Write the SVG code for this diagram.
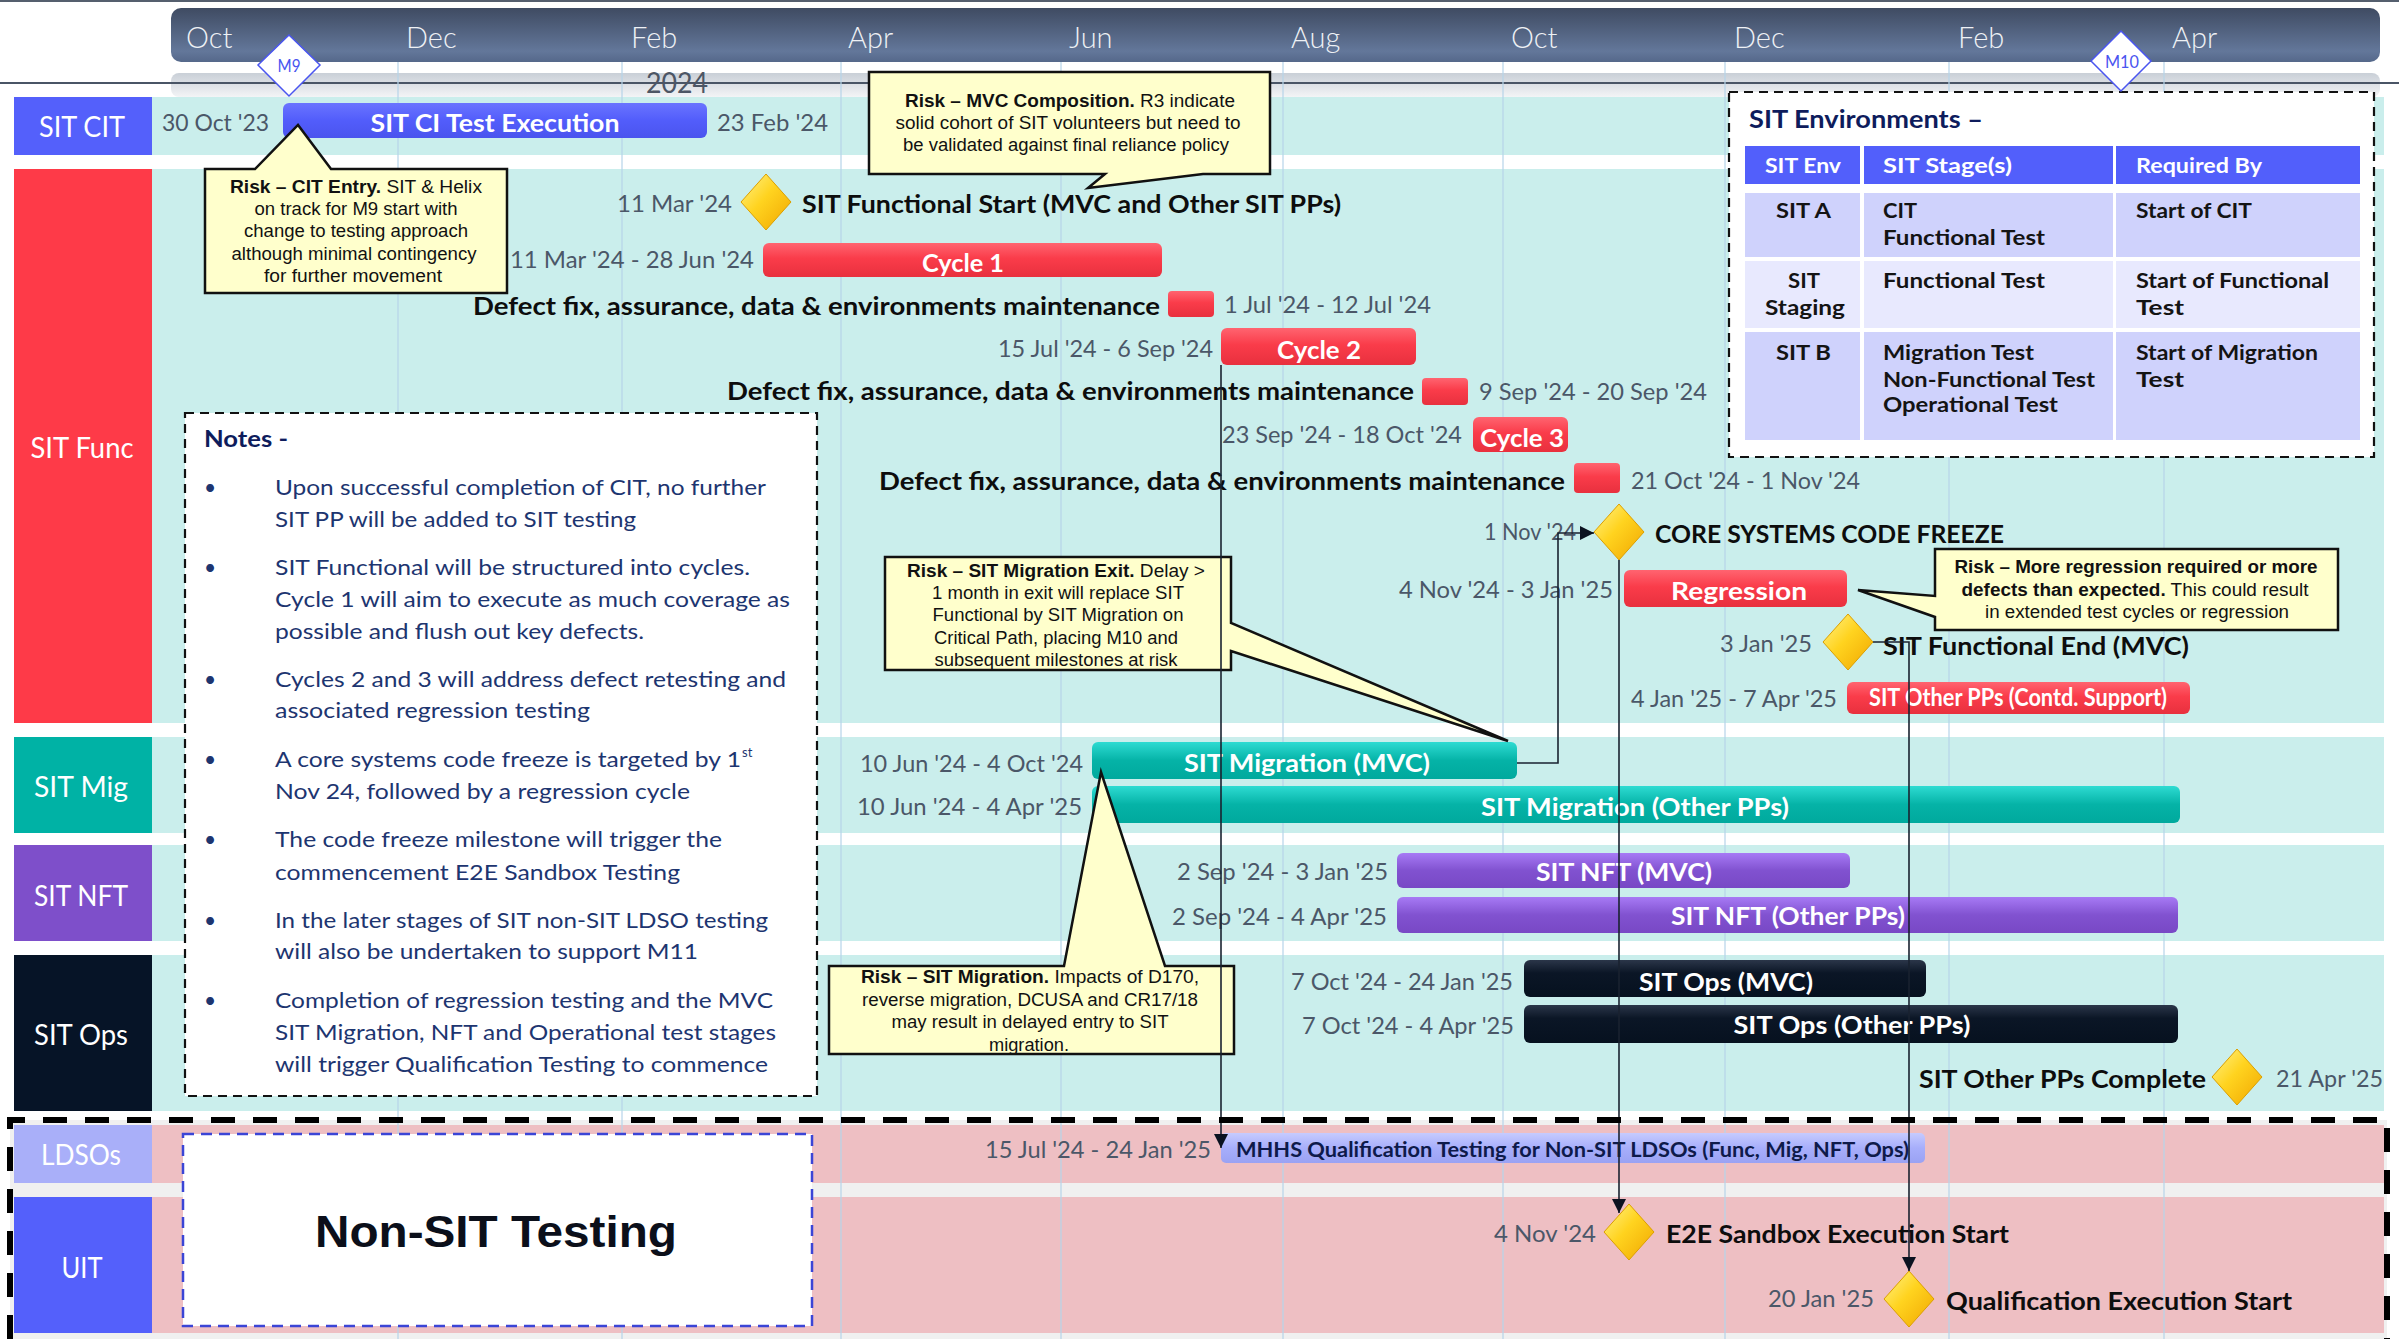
<svg xmlns="http://www.w3.org/2000/svg" width="2399" height="1339" viewBox="0 0 2399 1339">
<defs>
<linearGradient id="gHead" x1="0" y1="0" x2="0" y2="1"><stop offset="0" stop-color="#3f4b62"/><stop offset="0.8" stop-color="#63779a"/><stop offset="1" stop-color="#55688a"/></linearGradient>
<linearGradient id="gStrip" x1="0" y1="0" x2="0" y2="1"><stop offset="0" stop-color="#c9cfd7"/><stop offset="1" stop-color="#f3f4f6"/></linearGradient>
<linearGradient id="gRed" x1="0" y1="0" x2="0" y2="1"><stop offset="0" stop-color="#ff6470"/><stop offset="0.45" stop-color="#fa3c4a"/><stop offset="1" stop-color="#e8303e"/></linearGradient>
<linearGradient id="gBlue" x1="0" y1="0" x2="0" y2="1"><stop offset="0" stop-color="#6a74ff"/><stop offset="0.5" stop-color="#525dfb"/><stop offset="1" stop-color="#4a54ee"/></linearGradient>
<linearGradient id="gTeal" x1="0" y1="0" x2="0" y2="1"><stop offset="0" stop-color="#2edbd2"/><stop offset="0.5" stop-color="#05b3a7"/><stop offset="1" stop-color="#00a99d"/></linearGradient>
<linearGradient id="gPurp" x1="0" y1="0" x2="0" y2="1"><stop offset="0" stop-color="#a77af5"/><stop offset="0.5" stop-color="#8152d0"/><stop offset="1" stop-color="#7848c5"/></linearGradient>
<linearGradient id="gNavy" x1="0" y1="0" x2="0" y2="1"><stop offset="0" stop-color="#2b3649"/><stop offset="0.35" stop-color="#0b1626"/><stop offset="1" stop-color="#06111f"/></linearGradient>
<linearGradient id="gPeri" x1="0" y1="0" x2="0" y2="1"><stop offset="0" stop-color="#c6cbff"/><stop offset="0.5" stop-color="#a7aefb"/><stop offset="1" stop-color="#9aa2f3"/></linearGradient>
<linearGradient id="gGold" x1="0" y1="0" x2="1" y2="1"><stop offset="0" stop-color="#fff38a"/><stop offset="0.45" stop-color="#ffd31f"/><stop offset="1" stop-color="#f0a600"/></linearGradient>
<path id="dia" d="M0,-28 L25,0 L0,28 L-25,0 Z"/>
<marker id="arr" viewBox="0 0 14 14" refX="14" refY="7" markerWidth="14" markerHeight="14" markerUnits="userSpaceOnUse" orient="auto"><path d="M0,0 L14,7 L0,14 Z" fill="#0b1220"/></marker>
</defs>
<style>
text{font-family:Lato,"Liberation Sans",sans-serif}
.lane{fill:#caeeec}
.pink{fill:#eebfc3}
.lbl{fill:#ffffff;font-size:28px;text-anchor:middle}
.mon{fill:#eef1f5;font-size:29px;font-weight:300}
.date{fill:#4b5768;font-size:24px}
.bt{fill:#ffffff;font-size:25px;font-weight:700;text-anchor:middle}
.ms{fill:#0d0d0d;font-size:25px;font-weight:700}
.gold{fill:url(#gGold);stroke:#dc9f00;stroke-width:1}
.call{fill:#ffffcc;stroke:#111111;stroke-width:2.5;stroke-linejoin:miter}
.ct{font-family:"Liberation Sans",Arial,sans-serif;fill:#111111;font-size:17.5px;text-anchor:middle}
.ct .b{font-weight:700}
.big{font-family:"Liberation Sans",Arial,sans-serif;font-size:44px;font-weight:700;fill:#0b0f1a;text-anchor:middle}
.note{fill:#1d3570;font-size:21px}
.th{fill:#ffffff;font-size:21px;font-weight:700}
.td{fill:#141414;font-size:21px;font-weight:700}
.grid{stroke:#b7d5ea;stroke-width:2;opacity:0.6}
.con{fill:none;stroke:#1a2230;stroke-width:1.6}
.ml{fill:#ffffff;stroke:#4a55f0;stroke-width:1.5}
.mt{fill:#4a55f0;font-size:18px;text-anchor:middle}
</style>
<rect x="0" y="0" width="2399" height="1339" fill="#ffffff"/>

<g id="timeline">
<line x1="0" y1="1" x2="2399" y2="1" stroke="#555f6e" stroke-width="2"/>
<rect x="171" y="8" width="2209" height="54" rx="10" fill="url(#gHead)"/>
<rect x="171" y="73" width="2209" height="24" rx="8" fill="url(#gStrip)"/>
<line x1="0" y1="83" x2="2399" y2="83" stroke="#4a5566" stroke-width="2"/>
<text class="mon" x="186" y="48">Oct</text>
<text class="mon" x="406" y="48">Dec</text>
<text class="mon" x="631" y="48">Feb</text>
<text class="mon" x="848" y="48">Apr</text>
<text class="mon" x="1069" y="48">Jun</text>
<text class="mon" x="1291" y="48">Aug</text>
<text class="mon" x="1511" y="48">Oct</text>
<text class="mon" x="1734" y="48">Dec</text>
<text class="mon" x="1958" y="48">Feb</text>
<text class="mon" x="2172" y="48">Apr</text>
<text x="646" y="93" fill="#4d5665" font-size="29" textLength="62" lengthAdjust="spacingAndGlyphs">2024</text>
</g>

<g id="lanes">
<rect class="lane" x="152" y="97" width="2232" height="58"/>
<rect class="lane" x="152" y="169" width="2232" height="554"/>
<rect class="lane" x="152" y="737" width="2232" height="96"/>
<rect class="lane" x="152" y="845" width="2232" height="96"/>
<rect class="lane" x="152" y="955" width="2232" height="156"/>
<rect x="10" y="1120" width="2377" height="219" fill="#f0f0f0"/>
<rect class="pink" x="152" y="1125" width="2232" height="58"/>
<rect class="pink" x="152" y="1197" width="2232" height="136"/>
</g>

<g id="gridlines">
<line class="grid" x1="398" y1="62" x2="398" y2="1339"/>
<line class="grid" x1="622" y1="62" x2="622" y2="1339"/>
<line class="grid" x1="841" y1="62" x2="841" y2="1339"/>
<line class="grid" x1="1061" y1="62" x2="1061" y2="1339"/>
<line class="grid" x1="1283" y1="62" x2="1283" y2="1339"/>
<line class="grid" x1="1503" y1="62" x2="1503" y2="1339"/>
<line class="grid" x1="1725" y1="62" x2="1725" y2="1339"/>
<line class="grid" x1="1949" y1="62" x2="1949" y2="1339"/>
<line class="grid" x1="2164" y1="62" x2="2164" y2="1339"/>
</g>

<g id="lane-labels">
<g id="lbl-cit"><rect x="14" y="97" width="138" height="58" fill="#5460fb"/><text class="lbl" x="82" y="137" textLength="86" lengthAdjust="spacingAndGlyphs">SIT CIT</text></g>
<g id="lbl-func"><rect x="14" y="169" width="138" height="554" fill="#fe3a48"/><text class="lbl" x="82" y="458" textLength="103" lengthAdjust="spacingAndGlyphs">SIT Func</text></g>
<g id="lbl-mig"><rect x="14" y="737" width="138" height="96" fill="#00b2a5"/><text class="lbl" x="81" y="797" textLength="94" lengthAdjust="spacingAndGlyphs">SIT Mig</text></g>
<g id="lbl-nft"><rect x="14" y="845" width="138" height="96" fill="#7e4fca"/><text class="lbl" x="81" y="906" textLength="94" lengthAdjust="spacingAndGlyphs">SIT NFT</text></g>
<g id="lbl-ops"><rect x="14" y="955" width="138" height="156" fill="#061427"/><text class="lbl" x="81" y="1045" textLength="94" lengthAdjust="spacingAndGlyphs">SIT Ops</text></g>
<g id="lbl-ldsos"><rect x="14" y="1125" width="138" height="58" fill="#a9aff9"/><text class="lbl" x="81" y="1165" textLength="80" lengthAdjust="spacingAndGlyphs">LDSOs</text></g>
<g id="lbl-uit"><rect x="14" y="1197" width="138" height="136" fill="#5460fb"/><text class="lbl" x="82" y="1278" textLength="41" lengthAdjust="spacingAndGlyphs">UIT</text></g>
</g>

<g id="notes">
<rect x="185" y="413" width="632" height="683" fill="#ffffff" stroke="#111111" stroke-width="2.2" stroke-dasharray="9 6"/>
<text x="204" y="447" fill="#0e1c5c" font-size="23" font-weight="700" textLength="84" lengthAdjust="spacingAndGlyphs">Notes  -</text>
<g class="note">
<text x="204" y="495">•</text><text x="204" y="575">•</text><text x="204" y="687">•</text><text x="204" y="767">•</text><text x="204" y="847">•</text><text x="204" y="928">•</text><text x="204" y="1008">•</text>
<text x="275" y="495" textLength="491" lengthAdjust="spacingAndGlyphs">Upon successful completion of CIT, no further</text>
<text x="275" y="527" textLength="361" lengthAdjust="spacingAndGlyphs">SIT PP will be added to SIT testing</text>
<text x="275" y="575" textLength="475" lengthAdjust="spacingAndGlyphs">SIT Functional will be structured into cycles.</text>
<text x="275" y="607" textLength="515" lengthAdjust="spacingAndGlyphs">Cycle 1 will aim to execute  as much coverage as</text>
<text x="275" y="639" textLength="369" lengthAdjust="spacingAndGlyphs">possible and flush out key defects.</text>
<text x="275" y="687" textLength="511" lengthAdjust="spacingAndGlyphs">Cycles 2 and 3 will address defect retesting and</text>
<text x="275" y="718" textLength="315" lengthAdjust="spacingAndGlyphs">associated regression testing</text>
<text x="275" y="767" textLength="466" lengthAdjust="spacingAndGlyphs">A core systems code freeze  is targeted by 1</text>
<text x="742" y="757" font-size="13">st</text>
<text x="275" y="799" textLength="415" lengthAdjust="spacingAndGlyphs">Nov 24, followed by a regression cycle</text>
<text x="275" y="847" textLength="447" lengthAdjust="spacingAndGlyphs">The code freeze  milestone will trigger the</text>
<text x="275" y="880" textLength="405" lengthAdjust="spacingAndGlyphs">commencement  E2E Sandbox Testing</text>
<text x="275" y="928" textLength="493" lengthAdjust="spacingAndGlyphs">In the later stages of SIT non-SIT LDSO testing</text>
<text x="275" y="959" textLength="423" lengthAdjust="spacingAndGlyphs">will also be undertaken to support M11</text>
<text x="275" y="1008" textLength="498" lengthAdjust="spacingAndGlyphs">Completion of regression testing and the MVC</text>
<text x="275" y="1040" textLength="501" lengthAdjust="spacingAndGlyphs">SIT Migration, NFT and Operational test stages</text>
<text x="275" y="1072" textLength="493" lengthAdjust="spacingAndGlyphs">will trigger Qualification Testing to commence</text>
</g>
</g>

<g id="sit-environments">
<rect x="1729" y="92" width="645" height="365" fill="#ffffff" stroke="#111111" stroke-width="2.2" stroke-dasharray="9 6"/>
<text x="1749" y="128" fill="#0e1c5c" font-size="25" font-weight="700" textLength="234" lengthAdjust="spacingAndGlyphs">SIT Environments –</text>
<rect x="1745" y="146" width="115" height="38" fill="#525ffb"/><rect x="1864" y="146" width="249" height="38" fill="#525ffb"/><rect x="2116" y="146" width="244" height="38" fill="#525ffb"/>
<rect x="1745" y="193" width="115" height="64" fill="#cfd2fc"/><rect x="1864" y="193" width="249" height="64" fill="#cfd2fc"/><rect x="2116" y="193" width="244" height="64" fill="#cfd2fc"/>
<rect x="1745" y="261" width="115" height="67" fill="#e8e9fe"/><rect x="1864" y="261" width="249" height="67" fill="#e8e9fe"/><rect x="2116" y="261" width="244" height="67" fill="#e8e9fe"/>
<rect x="1745" y="332" width="115" height="108" fill="#cfd2fc"/><rect x="1864" y="332" width="249" height="108" fill="#cfd2fc"/><rect x="2116" y="332" width="244" height="108" fill="#cfd2fc"/>
<text class="th" x="1765" y="173" textLength="76" lengthAdjust="spacingAndGlyphs">SIT Env</text>
<text class="th" x="1883" y="173" textLength="129" lengthAdjust="spacingAndGlyphs">SIT Stage(s)</text>
<text class="th" x="2136" y="173" textLength="126" lengthAdjust="spacingAndGlyphs">Required By</text>
<text class="td" x="1776" y="218" textLength="55" lengthAdjust="spacingAndGlyphs">SIT A</text>
<text class="td" x="1883" y="218" textLength="34" lengthAdjust="spacingAndGlyphs">CIT</text>
<text class="td" x="1883" y="245" textLength="162" lengthAdjust="spacingAndGlyphs">Functional Test</text>
<text class="td" x="2136" y="218" textLength="116" lengthAdjust="spacingAndGlyphs">Start of CIT</text>
<text class="td" x="1788" y="288" textLength="32" lengthAdjust="spacingAndGlyphs">SIT</text>
<text class="td" x="1765" y="315" textLength="80" lengthAdjust="spacingAndGlyphs">Staging</text>
<text class="td" x="1883" y="288" textLength="162" lengthAdjust="spacingAndGlyphs">Functional Test</text>
<text class="td" x="2136" y="288" textLength="193" lengthAdjust="spacingAndGlyphs">Start of Functional</text>
<text class="td" x="2136" y="315" textLength="48" lengthAdjust="spacingAndGlyphs">Test</text>
<text class="td" x="1776" y="360" textLength="55" lengthAdjust="spacingAndGlyphs">SIT B</text>
<text class="td" x="1883" y="360" textLength="151" lengthAdjust="spacingAndGlyphs">Migration Test</text>
<text class="td" x="1883" y="387" textLength="212" lengthAdjust="spacingAndGlyphs">Non-Functional Test</text>
<text class="td" x="1883" y="412" textLength="175" lengthAdjust="spacingAndGlyphs">Operational Test</text>
<text class="td" x="2136" y="360" textLength="182" lengthAdjust="spacingAndGlyphs">Start of Migration</text>
<text class="td" x="2136" y="387" textLength="48" lengthAdjust="spacingAndGlyphs">Test</text>
</g>

<g id="non-sit-box">
<rect x="183" y="1134" width="629" height="192" fill="#ffffff" stroke="#3b45d6" stroke-width="2.5" stroke-dasharray="11 7"/>
<text class="big" x="496" y="1247" textLength="362" lengthAdjust="spacingAndGlyphs">Non-SIT Testing</text>
</g>

<g id="m9"><path class="ml" d="M289,35 L320,65 L289,96 L258,65 Z"/><text class="mt" x="289" y="72" textLength="23" lengthAdjust="spacingAndGlyphs">M9</text></g>
<g id="m10"><path class="ml" d="M2121,31 L2151,61 L2121,91 L2091,61 Z"/><text class="mt" x="2122" y="68" textLength="34" lengthAdjust="spacingAndGlyphs">M10</text></g>

<g id="sit-ci-test-execution">
<text class="date" x="162" y="131" textLength="107" lengthAdjust="spacingAndGlyphs">30 Oct '23</text>
<rect x="283" y="103" width="424" height="35" rx="6" fill="url(#gBlue)"/>
<text class="bt" x="495" y="132" textLength="249" lengthAdjust="spacingAndGlyphs">SIT CI Test Execution</text>
<text class="date" x="717" y="131" textLength="111" lengthAdjust="spacingAndGlyphs">23 Feb '24</text>
</g>

<g id="sit-functional-start">
<text class="date" x="617" y="212" textLength="115" lengthAdjust="spacingAndGlyphs">11 Mar '24</text>
<use href="#dia" x="766" y="202" class="gold"/>
<text class="ms" x="802" y="213" textLength="539" lengthAdjust="spacingAndGlyphs">SIT Functional Start (MVC and Other SIT PPs)</text>
</g>

<g id="cycle-1">
<text class="date" x="510" y="268" textLength="244" lengthAdjust="spacingAndGlyphs">11 Mar '24 - 28 Jun '24</text>
<rect x="763" y="243" width="399" height="34" rx="6" fill="url(#gRed)"/>
<text class="bt" x="963" y="272" textLength="82" lengthAdjust="spacingAndGlyphs">Cycle 1</text>
</g>
<g id="defect-fix-1">
<text class="ms" x="473" y="315" textLength="687" lengthAdjust="spacingAndGlyphs">Defect fix, assurance, data &amp; environments maintenance</text>
<rect x="1168" y="291" width="46" height="26" rx="4" fill="url(#gRed)"/>
<text class="date" x="1224" y="313" textLength="207" lengthAdjust="spacingAndGlyphs">1 Jul '24 - 12 Jul '24</text>
</g>
<g id="cycle-2">
<text class="date" x="998" y="357" textLength="215" lengthAdjust="spacingAndGlyphs">15 Jul '24 - 6 Sep '24</text>
<rect x="1221" y="328" width="195" height="37" rx="6" fill="url(#gRed)"/>
<text class="bt" x="1319" y="359" textLength="84" lengthAdjust="spacingAndGlyphs">Cycle 2</text>
</g>
<g id="defect-fix-2">
<text class="ms" x="727" y="400" textLength="687" lengthAdjust="spacingAndGlyphs">Defect fix, assurance, data &amp; environments maintenance</text>
<rect x="1422" y="378" width="46" height="27" rx="4" fill="url(#gRed)"/>
<text class="date" x="1479" y="400" textLength="228" lengthAdjust="spacingAndGlyphs">9 Sep '24 - 20 Sep '24</text>
</g>
<g id="cycle-3">
<text class="date" x="1222" y="443" textLength="240" lengthAdjust="spacingAndGlyphs">23 Sep '24 - 18 Oct '24</text>
<rect x="1473" y="417" width="95" height="35" rx="6" fill="url(#gRed)"/>
<text class="bt" x="1522" y="447" textLength="84" lengthAdjust="spacingAndGlyphs">Cycle 3</text>
</g>
<g id="defect-fix-3">
<text class="ms" x="879" y="490" textLength="686" lengthAdjust="spacingAndGlyphs">Defect fix, assurance, data &amp; environments maintenance</text>
<rect x="1574" y="463" width="46" height="30" rx="4" fill="url(#gRed)"/>
<text class="date" x="1631" y="489" textLength="229" lengthAdjust="spacingAndGlyphs">21 Oct '24 - 1 Nov '24</text>
</g>
<g id="code-freeze">
<text class="date" x="1484" y="540" textLength="92" lengthAdjust="spacingAndGlyphs">1 Nov '24</text>
<use href="#dia" x="1619" y="532" class="gold"/>
<text class="ms" x="1655" y="543" textLength="349" lengthAdjust="spacingAndGlyphs">CORE SYSTEMS CODE FREEZE</text>
</g>
<g id="regression">
<text class="date" x="1399" y="598" textLength="214" lengthAdjust="spacingAndGlyphs">4 Nov '24 - 3 Jan '25</text>
<rect x="1624" y="570" width="223" height="37" rx="6" fill="url(#gRed)"/>
<text class="bt" x="1739" y="600" textLength="136" lengthAdjust="spacingAndGlyphs">Regression</text>
</g>
<g id="sit-functional-end">
<text class="date" x="1720" y="652" textLength="92" lengthAdjust="spacingAndGlyphs">3 Jan '25</text>
<use href="#dia" x="1848" y="642" class="gold"/>
<text class="ms" x="1883" y="655" textLength="306" lengthAdjust="spacingAndGlyphs">SIT Functional End (MVC)</text>
</g>
<g id="sit-other-pps-support">
<text class="date" x="1631" y="707" textLength="206" lengthAdjust="spacingAndGlyphs">4 Jan '25 - 7 Apr '25</text>
<rect x="1847" y="682" width="343" height="32" rx="6" fill="url(#gRed)"/>
<text class="bt" x="2018" y="706" font-size="21" textLength="298" lengthAdjust="spacingAndGlyphs">SIT Other PPs (Contd. Support)</text>
</g>

<g id="sit-migration-mvc">
<text class="date" x="860" y="772" textLength="223" lengthAdjust="spacingAndGlyphs">10 Jun '24 - 4 Oct '24</text>
<rect x="1092" y="742" width="425" height="37" rx="6" fill="url(#gTeal)"/>
<text class="bt" x="1307" y="772" textLength="246" lengthAdjust="spacingAndGlyphs">SIT Migration (MVC)</text>
</g>
<g id="sit-migration-other">
<text class="date" x="857" y="815" textLength="225" lengthAdjust="spacingAndGlyphs">10 Jun '24 - 4 Apr '25</text>
<rect x="1092" y="786" width="1088" height="37" rx="6" fill="url(#gTeal)"/>
<text class="bt" x="1635" y="816" textLength="308" lengthAdjust="spacingAndGlyphs">SIT Migration (Other PPs)</text>
</g>
<g id="sit-nft-mvc">
<text class="date" x="1177" y="880" textLength="211" lengthAdjust="spacingAndGlyphs">2 Sep '24 - 3 Jan '25</text>
<rect x="1397" y="853" width="453" height="35" rx="6" fill="url(#gPurp)"/>
<text class="bt" x="1624" y="881" textLength="176" lengthAdjust="spacingAndGlyphs">SIT NFT (MVC)</text>
</g>
<g id="sit-nft-other">
<text class="date" x="1172" y="925" textLength="215" lengthAdjust="spacingAndGlyphs">2 Sep '24 - 4 Apr '25</text>
<rect x="1397" y="897" width="781" height="36" rx="6" fill="url(#gPurp)"/>
<text class="bt" x="1788" y="925" textLength="234" lengthAdjust="spacingAndGlyphs">SIT NFT (Other PPs)</text>
</g>
<g id="sit-ops-mvc">
<text class="date" x="1291" y="990" textLength="222" lengthAdjust="spacingAndGlyphs">7 Oct '24 - 24 Jan '25</text>
<rect x="1524" y="960" width="402" height="37" rx="6" fill="url(#gNavy)"/>
<text class="bt" x="1726" y="991" textLength="174" lengthAdjust="spacingAndGlyphs">SIT Ops (MVC)</text>
</g>
<g id="sit-ops-other">
<text class="date" x="1302" y="1034" textLength="212" lengthAdjust="spacingAndGlyphs">7 Oct '24 - 4 Apr '25</text>
<rect x="1524" y="1005" width="654" height="38" rx="6" fill="url(#gNavy)"/>
<text class="bt" x="1852" y="1034" textLength="237" lengthAdjust="spacingAndGlyphs">SIT Ops (Other PPs)</text>
</g>
<g id="sit-other-pps-complete">
<text class="ms" x="1919" y="1088" textLength="287" lengthAdjust="spacingAndGlyphs">SIT Other PPs Complete</text>
<use href="#dia" x="2237" y="1077" class="gold"/>
<text class="date" x="2276" y="1087" textLength="107" lengthAdjust="spacingAndGlyphs">21 Apr '25</text>
</g>

<g id="mhhs-qualification">
<text class="date" x="985" y="1158" textLength="226" lengthAdjust="spacingAndGlyphs">15 Jul '24 - 24 Jan '25</text>
<rect x="1221" y="1133" width="704" height="30" rx="5" fill="url(#gPeri)"/>
<text x="1236" y="1157" fill="#0e1a4a" font-size="21" font-weight="700" textLength="673" lengthAdjust="spacingAndGlyphs">MHHS Qualification Testing for Non-SIT LDSOs (Func, Mig, NFT, Ops)</text>
</g>
<g id="e2e-sandbox-start">
<text class="date" x="1494" y="1242" textLength="102" lengthAdjust="spacingAndGlyphs">4 Nov '24</text>
<use href="#dia" x="1629" y="1232" class="gold"/>
<text class="ms" x="1666" y="1243" textLength="343" lengthAdjust="spacingAndGlyphs">E2E Sandbox Execution Start</text>
</g>
<g id="qualification-start">
<text class="date" x="1768" y="1307" textLength="106" lengthAdjust="spacingAndGlyphs">20 Jan '25</text>
<use href="#dia" x="1909" y="1299" class="gold"/>
<text class="ms" x="1946" y="1310" textLength="346" lengthAdjust="spacingAndGlyphs">Qualification Execution Start</text>
</g>

<g id="risk-cit-entry">
<path class="call" d="M205,169 H255 L298,125 L331,169 H507 V293 H205 Z"/>
<text class="ct" x="356" y="193" textLength="252" lengthAdjust="spacingAndGlyphs"><tspan class="b">Risk – CIT Entry.</tspan>  SIT &amp; Helix</text>
<text class="ct" x="356" y="215" textLength="203" lengthAdjust="spacingAndGlyphs">on track for M9 start with</text>
<text class="ct" x="356" y="237" textLength="224" lengthAdjust="spacingAndGlyphs">change to testing approach</text>
<text class="ct" x="354" y="260" textLength="245" lengthAdjust="spacingAndGlyphs">although minimal contingency</text>
<text class="ct" x="353" y="282" textLength="178" lengthAdjust="spacingAndGlyphs">for further movement</text>
</g>
<g id="risk-mvc-composition">
<path class="call" d="M869,72 H1270 V174 H1203 L1088,188 L1105,174 H869 Z"/>
<text class="ct" x="1070" y="107" textLength="330" lengthAdjust="spacingAndGlyphs"><tspan class="b">Risk – MVC Composition.</tspan>  R3 indicate</text>
<text class="ct" x="1068" y="129" textLength="345" lengthAdjust="spacingAndGlyphs">solid cohort of SIT  volunteers but need to</text>
<text class="ct" x="1066" y="151" textLength="326" lengthAdjust="spacingAndGlyphs">be validated against final reliance policy</text>
</g>
<g id="risk-migration-exit">
<path class="call" d="M885,557 H1231 V623 L1508,741 L1231,651 V670 H885 Z"/>
<text class="ct" x="1056" y="577" textLength="298" lengthAdjust="spacingAndGlyphs"><tspan class="b">Risk – SIT Migration Exit.</tspan>  Delay &gt;</text>
<text class="ct" x="1058" y="599" textLength="252" lengthAdjust="spacingAndGlyphs">1 month in exit will  replace SIT</text>
<text class="ct" x="1058" y="621" textLength="251" lengthAdjust="spacingAndGlyphs">Functional by SIT Migration  on</text>
<text class="ct" x="1056" y="644" textLength="244" lengthAdjust="spacingAndGlyphs">Critical Path, placing M10  and</text>
<text class="ct" x="1056" y="666" textLength="243" lengthAdjust="spacingAndGlyphs">subsequent milestones at risk</text>
</g>
<g id="risk-sit-migration">
<path class="call" d="M829,966 H1064 L1101,772 L1165,966 H1234 V1054 H829 Z"/>
<text class="ct" x="1030" y="983" textLength="338" lengthAdjust="spacingAndGlyphs"><tspan class="b">Risk – SIT Migration.</tspan>  Impacts of D170,</text>
<text class="ct" x="1030" y="1006" textLength="336" lengthAdjust="spacingAndGlyphs">reverse migration, DCUSA and  CR17/18</text>
<text class="ct" x="1030" y="1028" textLength="277" lengthAdjust="spacingAndGlyphs">may  result in delayed entry to SIT</text>
<text class="ct" x="1029" y="1051" textLength="80" lengthAdjust="spacingAndGlyphs">migration.</text>
</g>
<g id="risk-regression">
<path class="call" d="M1935,549 H2338 V630 H1935 V617 L1858,590 L1935,596 Z"/>
<text class="ct" x="2136" y="573" textLength="363" lengthAdjust="spacingAndGlyphs"><tspan class="b">Risk – More regression required or more</tspan></text>
<text class="ct" x="2135" y="596" textLength="347" lengthAdjust="spacingAndGlyphs"><tspan class="b">defects than expected.</tspan>  This could result</text>
<text class="ct" x="2137" y="618" textLength="304" lengthAdjust="spacingAndGlyphs">in extended test cycles or regression</text>
</g>

<g id="connectors">
<path class="con" d="M1517,763 H1558 V533 H1594" marker-end="url(#arr)"/>
<path class="con" d="M1619,560 V1213" marker-end="url(#arr)"/>
<path class="con" d="M1873,642 H1909 V1271" marker-end="url(#arr)"/>
<path class="con" d="M1221,365 V1148" marker-end="url(#arr)"/>
</g>

<g id="non-sit-border">
<path d="M10,1339 V1120 H2387 V1339" fill="none" stroke="#000000" stroke-width="6" stroke-dasharray="24 18"/>
</g>
</svg>
